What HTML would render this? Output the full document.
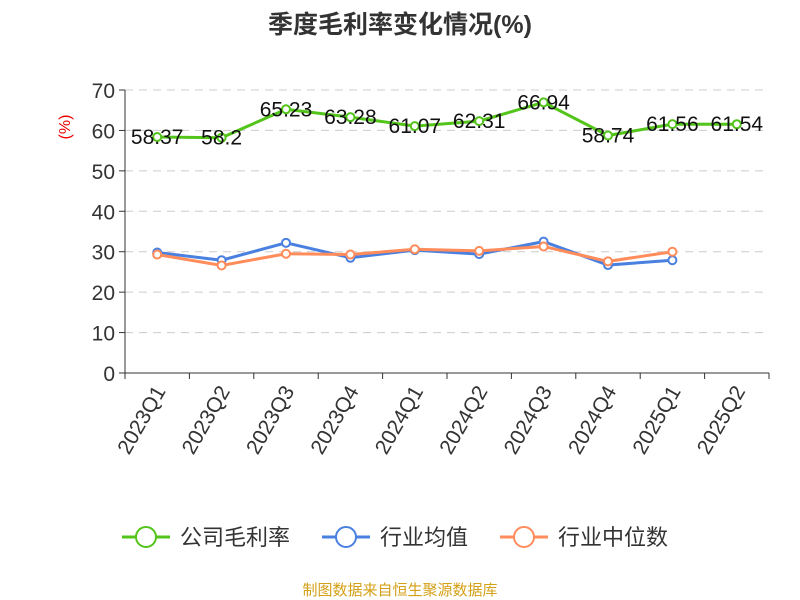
<!DOCTYPE html>
<html><head><meta charset="utf-8"><style>body{margin:0;background:#fff}svg{display:block}</style></head><body>
<svg id="c" width="800" height="600" xmlns="http://www.w3.org/2000/svg" font-family="Liberation Sans, Noto Sans CJK SC, sans-serif">
<text x="400" y="33" text-anchor="middle" font-size="25" font-weight="bold" fill="#333">季度毛利率变化情况(%)</text>
<text x="70" y="127" text-anchor="middle" font-size="16" fill="#e00" transform="rotate(-90 70 127)">(%)</text>
<g id="grid"></g><g id="axes"></g><g id="series"></g>
<g font-size="22" fill="#333">
<g><line x1="122" y1="537" x2="170" y2="537" stroke="#52c41a" stroke-width="3"/><circle cx="146" cy="537" r="10" fill="#fff" stroke="#52c41a" stroke-width="2"/><text x="180" y="545">公司毛利率</text></g>
<g><line x1="322" y1="537" x2="370" y2="537" stroke="#4a80e0" stroke-width="3"/><circle cx="346" cy="537" r="10" fill="#fff" stroke="#4a80e0" stroke-width="2"/><text x="380" y="545">行业均值</text></g>
<g><line x1="500" y1="537" x2="548" y2="537" stroke="#ff8c5a" stroke-width="3"/><circle cx="524" cy="537" r="10" fill="#fff" stroke="#ff8c5a" stroke-width="2"/><text x="558" y="545">行业中位数</text></g>
</g>
<text x="400" y="595" text-anchor="middle" font-size="15" fill="#d4a017">制图数据来自恒生聚源数据库</text>
</svg>
<script>
const categories=["2023Q1","2023Q2","2023Q3","2023Q4","2024Q1","2024Q2","2024Q3","2024Q4","2025Q1","2025Q2"];
const company=[58.37,58.2,65.23,63.28,61.07,62.31,66.94,58.74,61.56,61.54];
const industryAvg=[29.8,27.9,32.2,28.5,30.4,29.4,32.5,26.7,27.9,null];
const industryMedian=[29.3,26.6,29.5,29.3,30.6,30.2,31.3,27.6,30.0,null];
const yTicks=[0,10,20,30,40,50,60,70];
const NS="http://www.w3.org/2000/svg";
const x0=125,x1=769,y0=373,y1=90,ymax=70;
const bw=(x1-x0)/categories.length;
const X=i=>x0+bw*(i+0.5), Y=v=>y0-(v/ymax)*(y0-y1);
function mk(t,a,p){const e=document.createElementNS(NS,t);for(const k in a)e.setAttribute(k,a[k]);p.appendChild(e);return e;}
const grid=document.getElementById('grid'),axes=document.getElementById('axes'),ser=document.getElementById('series');
yTicks.forEach(v=>{
 if(v>0){const l=mk('line',{x1:x0,x2:x1,y1:Y(v),y2:Y(v),stroke:'#ccc','stroke-dasharray':'8,6'},grid);
 
 }
 const t=mk('text',{x:x0-10,y:Y(v)+8,'text-anchor':'end','font-size':21,fill:'#333'},axes);t.textContent=v;
 
 
 mk('line',{x1:x0-6,x2:x0,y1:Y(v),y2:Y(v),stroke:'#333'},axes);
});
mk('line',{x1:x0,x2:x0,y1:y1,y2:y0,stroke:'#333'},axes);
mk('line',{x1:x0,x2:x1,y1:y0,y2:y0,stroke:'#333'},axes);
for(let i=0;i<=categories.length;i++)mk('line',{x1:x0+bw*i,x2:x0+bw*i,y1:y0,y2:y0+6,stroke:'#333'},axes);
categories.forEach((c,i)=>{const t=mk('text',{x:X(i)+9,y:y0+18,'text-anchor':'end','font-size':21,fill:'#333',transform:`rotate(-60 ${X(i)+9} ${y0+18})`},axes);t.textContent=c;
 
 });
function draw(data,color,name,labels){
 const pts=[];data.forEach((v,i)=>{if(v!=null)pts.push([X(i),Y(v),v]);});
 const p=mk('polyline',{points:pts.map(p=>p[0]+','+p[1]).join(' '),fill:'none',stroke:color,'stroke-width':3},ser);
 
 
 pts.forEach(q=>{const c=mk('circle',{cx:q[0],cy:q[1],r:4,fill:'#fff',stroke:color,'stroke-width':2},ser);
  
  
  if(labels){const t=mk('text',{x:q[0],y:q[1]+7,'text-anchor':'middle','font-size':21,fill:'#111'},ser);t.textContent=q[2];
  
  }});
}
draw(industryAvg,'#4a80e0','industry-avg',false);
draw(industryMedian,'#ff8c5a','industry-median',false);
draw(company,'#52c41a','company',true);
</script>
</body></html>
